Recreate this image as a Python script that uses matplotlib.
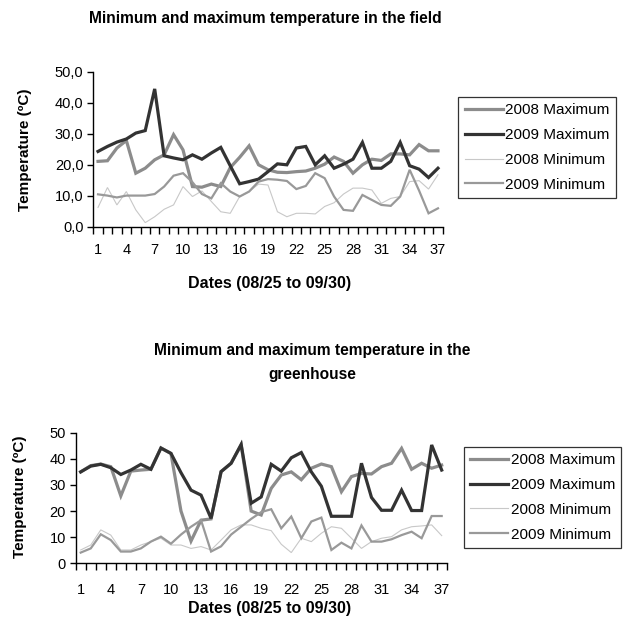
import matplotlib
matplotlib.use("Agg")
import matplotlib.pyplot as plt
from matplotlib.ticker import FixedLocator, FuncFormatter

plt.rcParams['font.family'] = ['Liberation Sans', 'DejaVu Sans']

days = list(range(1, 38))
xtick_labels = list(range(1, 38, 3))
series_names = ["2008 Maximum", "2009 Maximum", "2008 Minimum", "2009 Minimum"]

# Field
field_max_2008 = [21.1, 21.3, 25.4, 27.8, 17.3, 18.9, 21.6, 23.2, 29.7, 24.8,
                  13.0, 12.8, 13.8, 13.0, 19.1, 22.4, 26.1, 20.0, 18.4, 17.6,
                  17.5, 17.8, 18.0, 18.9, 20.2, 22.5, 21.1, 17.3, 20.0, 21.8,
                  21.4, 23.5, 23.5, 23.2, 26.5, 24.5, 24.5]
field_max_2009 = [24.3, 25.9, 27.3, 28.3, 30.2, 31.0, 44.4, 22.9, 22.2, 21.6,
                  23.2, 21.8, 23.8, 25.6, 19.7, 13.9, 14.6, 15.4, 17.8, 20.3,
                  20.0, 25.4, 25.9, 20.0, 22.9, 18.9, 20.2, 21.8, 27.2, 18.9,
                  18.9, 21.1, 27.2, 19.7, 18.6, 15.9, 18.9]
field_min_2008 = [6.3, 12.7, 7.1, 11.4, 5.5, 1.4, 3.3, 5.7, 7.1, 13.0,
                  9.8, 11.6, 8.2, 4.9, 4.4, 9.8, 11.4, 13.8, 13.5, 4.9,
                  3.3, 4.4, 4.4, 4.2, 6.6, 7.8, 10.6, 12.5, 12.5, 11.9,
                  7.6, 9.2, 9.8, 14.6, 14.9, 12.2, 16.8]
field_min_2009 = [10.5, 10.1, 9.5, 10.1, 10.1, 10.1, 10.6, 13.0, 16.5, 17.3,
                  14.4, 10.6, 9.2, 14.1, 11.4, 9.8, 11.4, 14.6, 15.4, 15.2,
                  14.8, 12.2, 13.2, 17.3, 15.7, 9.8, 5.5, 5.2, 10.3, 8.7,
                  7.1, 6.8, 9.8, 18.4, 11.7, 4.4, 6.0]

# Greenhouse
gh_max_2008 = [35.0, 37.4, 38.0, 37.0, 25.8, 35.3, 35.7, 36.0, 44.2, 42.0,
               20.0, 8.5, 16.5, 17.0, 35.1, 38.3, 45.3, 20.0, 18.5, 28.7,
               33.8, 35.0, 32.0, 36.4, 38.0, 37.0, 27.4, 33.2, 34.4, 34.2,
               37.0, 38.3, 44.0, 36.0, 38.3, 36.4, 37.6]
gh_max_2009 = [35.0, 37.2, 37.9, 36.6, 34.0, 35.7, 37.9, 36.0, 44.1, 42.1,
               34.7, 28.0, 26.1, 17.2, 35.1, 38.3, 45.5, 23.0, 25.4, 37.9,
               35.3, 40.4, 42.4, 35.0, 29.5, 18.0, 18.0, 18.0, 38.3, 25.2,
               20.3, 20.3, 28.0, 20.2, 20.2, 45.3, 35.7]
gh_min_2008 = [5.1, 7.0, 12.8, 10.8, 5.1, 5.1, 7.0, 8.3, 9.6, 7.0,
               7.0, 5.7, 6.4, 5.1, 8.9, 12.8, 14.7, 14.7, 13.4, 12.5,
               7.3, 4.1, 9.6, 8.3, 11.5, 14.0, 13.4, 9.6, 5.7, 8.3,
               9.6, 10.2, 12.8, 14.0, 14.3, 14.7, 10.6]
gh_min_2009 = [4.1, 5.7, 11.1, 8.9, 4.5, 4.5, 5.7, 8.3, 10.2, 7.5,
               11.0, 14.0, 16.5, 4.5, 6.5, 11.0, 14.0, 17.0, 19.6, 20.7,
               13.4, 17.9, 9.6, 16.0, 17.5, 5.1, 7.9, 5.7, 14.5, 8.3,
               8.3, 9.2, 10.8, 12.1, 9.6, 18.1, 18.1]

styles = [dict(color="#8c8c8c", lw=2.3),
          dict(color="#333333", lw=2.3),
          dict(color="#c8c8c8", lw=0.8),
          dict(color="#999999", lw=1.6)]

W, H = 631, 628
fig = plt.figure(figsize=(W / 100, H / 100), dpi=100)


def px_axes(left, top, right, bottom):
    return fig.add_axes([left / W, 1 - bottom / H, (right - left) / W, (bottom - top) / H])


def setup(ax, data, fmt, legend_box, xpad):
    for vals, st, name in zip(data, styles, series_names):
        ax.plot(days, vals, label=name, solid_joinstyle='miter', **st)
    ax.set_xlim(0.5, 37.5)
    ax.set_ylim(0, 50)
    ax.set_yticks(range(0, 51, 10))
    ax.yaxis.set_major_formatter(FuncFormatter(fmt))
    ax.xaxis.set_major_locator(FixedLocator([d - 0.5 for d in days] + [37.5]))
    ax.xaxis.set_major_formatter(FuncFormatter(lambda v, p: ""))
    ax.xaxis.set_minor_locator(FixedLocator(xtick_labels))
    ax.xaxis.set_minor_formatter(FuncFormatter(lambda v, p: "%d" % v))
    ax.tick_params(axis='x', which='major', direction='out', length=5, width=1, color='black')
    ax.tick_params(axis='x', which='minor', length=0, pad=xpad, labelsize=10.5)
    ax.tick_params(axis='y', direction='out', length=4, width=1, labelsize=10.5, pad=3)
    for s in ['top', 'right']:
        ax.spines[s].set_visible(False)
    for s in ['left', 'bottom']:
        ax.spines[s].set_linewidth(1)
        ax.spines[s].set_color('black')
    leg = ax.legend(loc='center', bbox_to_anchor=legend_box, bbox_transform=fig.transFigure,
                    frameon=True, fancybox=False, edgecolor='black', fontsize=11,
                    handlelength=2.5, handletextpad=0.15, labelspacing=0.7,
                    borderpad=0.4, borderaxespad=0)
    leg.get_frame().set_linewidth(0.9)


ax1 = px_axes(93.3, 71.5, 442.7, 227)
setup(ax1, [field_max_2008, field_max_2009, field_min_2008, field_min_2009],
      lambda v, p: ("%.1f" % v).replace(".", ","),
      ((456 + 618) / 2 / W, 1 - (92 + 203) / 2 / H, 0, 0), 11.5)
fig.text(265 / W, 1 - 18 / H, "Minimum and maximum temperature in the field",
         ha='center', va='center', fontsize=11.2, fontweight='bold')
fig.text(270 / W, 1 - 283 / H, "Dates (08/25 to 09/30)", ha='center', va='center',
         fontsize=11.5, fontweight='bold')
fig.text(25 / W, 1 - 150 / H, "Temperature (ºC)", ha='center', va='center',
         rotation=90, fontsize=11, fontweight='bold')

ax2 = px_axes(75.7, 432.7, 446.7, 563.3)
setup(ax2, [gh_max_2008, gh_max_2009, gh_min_2008, gh_min_2009],
      lambda v, p: "%d" % v,
      ((460 + 625) / 2 / W, 1 - (442 + 553) / 2 / H, 0, 0), 14)
fig.text(312 / W, 1 - 363 / H, "Minimum and maximum temperature in the\ngreenhouse",
         ha='center', va='center', fontsize=11.2, fontweight='bold', linespacing=1.75)
fig.text(270 / W, 1 - 608 / H, "Dates (08/25 to 09/30)", ha='center', va='center',
         fontsize=11.5, fontweight='bold')
fig.text(20 / W, 1 - 497 / H, "Temperature (ºC)", ha='center', va='center',
         rotation=90, fontsize=11, fontweight='bold')

fig.savefig("out.png", dpi=100)
